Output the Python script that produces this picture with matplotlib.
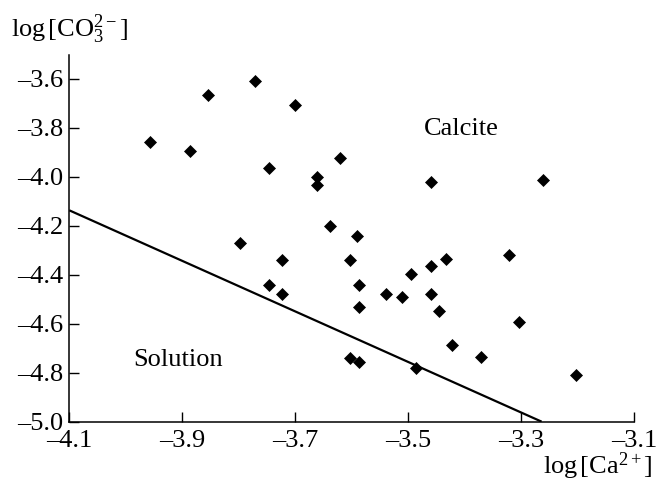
import matplotlib
matplotlib.use("Agg")
import matplotlib.pyplot as plt

plt.rcParams['font.family'] = ['Liberation Serif', 'DejaVu Serif']
plt.rcParams['mathtext.fontset'] = 'custom'
plt.rcParams['mathtext.rm'] = 'Liberation Serif'
plt.rcParams['mathtext.it'] = 'Liberation Serif:italic'

log_ca = [-3.958, -3.886, -3.854, -3.771, -3.700, -3.746, -3.661, -3.661, -3.621,
          -3.639, -3.590, -3.798, -3.723, -3.604, -3.459, -3.262, -3.587, -3.540,
          -3.511, -3.496, -3.459, -3.434, -3.321, -3.459, -3.587, -3.446, -3.304,
          -3.423, -3.371, -3.603, -3.587, -3.486, -3.203, -3.746, -3.723]
log_co3 = [-3.859, -3.893, -3.665, -3.610, -3.706, -3.965, -4.002, -4.033, -3.924,
           -4.199, -4.240, -4.269, -4.339, -4.338, -4.022, -4.012, -4.440, -4.479,
           -4.490, -4.399, -4.365, -4.335, -4.318, -4.478, -4.532, -4.549, -4.593,
           -4.689, -4.736, -4.740, -4.757, -4.780, -4.808, -4.440, -4.478]
boundary_x = [-4.1, -3.264]
boundary_y = [-4.137, -5.0]
xticks = [-4.1, -3.9, -3.7, -3.5, -3.3, -3.1]
yticks = [-3.6, -3.8, -4.0, -4.2, -4.4, -4.6, -4.8, -5.0]

fig = plt.figure(figsize=(6.6, 4.83), dpi=100)
ax = fig.add_axes([0.105, 0.127, 0.856, 0.759])
ax.plot(boundary_x, boundary_y, color='black', lw=1.6, solid_capstyle='butt')
ax.plot(log_ca, log_co3, linestyle='none', marker='D', ms=6, color='black', mew=0.5)
ax.set_xlim(-4.1, -3.1)
ax.set_ylim(-5.0, -3.503)
ax.set_xticks(xticks)
ax.set_yticks(yticks)
ax.set_xticklabels([f"{v:.1f}".replace('-', '\u2013') for v in xticks])
ax.set_yticklabels([f"{v:.1f}".replace('-', '\u2013') for v in yticks])
for s in ['top', 'right']:
    ax.spines[s].set_visible(False)
for s in ['left', 'bottom']:
    ax.spines[s].set_linewidth(1.1)
ax.tick_params(direction='in', length=7.5, width=1.0, labelsize=19, pad=4)
ax.tick_params(axis='x', pad=6)

ax.text(-3.407, -3.803, 'Calcite', fontsize=19, ha='center', va='center')
ax.text(-3.907, -4.750, 'Solution', fontsize=19, ha='center', va='center')

fig.text(0.016, 0.923, 'log$\\,$[CO$_3^{2-}$]', fontsize=19, ha='left', va='baseline')
fig.text(0.988, 0.018, 'log$\\,$[Ca$^{2+}$]', fontsize=19, ha='right', va='baseline')

fig.savefig('out.png', dpi=100)
